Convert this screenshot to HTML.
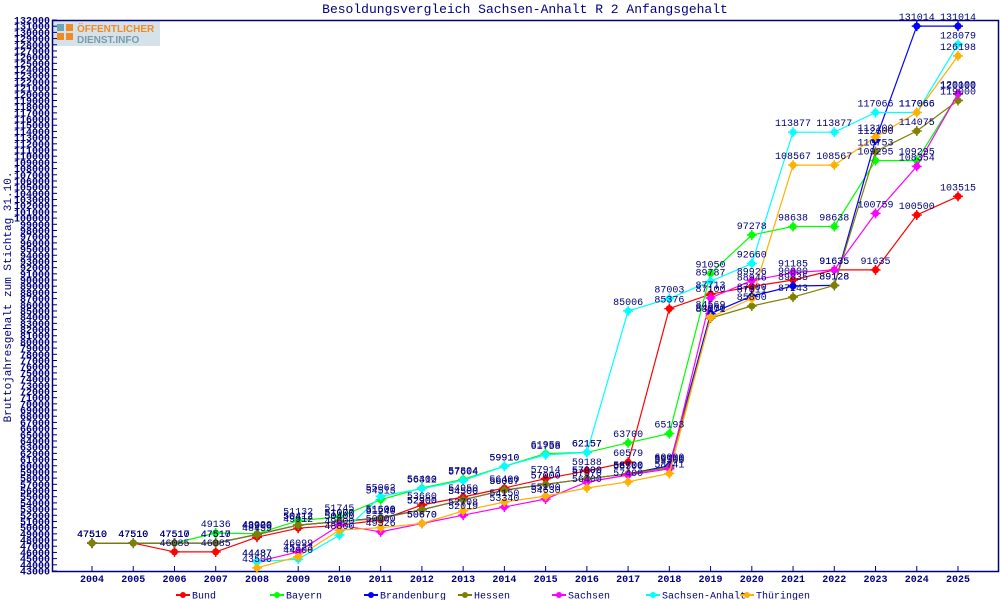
<!DOCTYPE html>
<html><head><meta charset="utf-8"><style>
html,body{margin:0;padding:0;background:#fff;}
svg{display:block;font-family:"Liberation Mono","DejaVu Sans Mono",monospace;}
</style></head><body>
<svg id="s" width="1000" height="600" viewBox="0 0 1000 600" xmlns="http://www.w3.org/2000/svg"></svg>
<script>
var S=document.getElementById('s');var h='';
var L=52,T=20,R=999,B=571;
function Y(v){return B-(v-43000)*551/89000;}
function X(i){return 92+i*41.238;}
h+='<rect x="52" y="20" width="108" height="26" fill="#d6e2ea"/>';
h+='<rect x="57" y="24" width="7" height="7" fill="#6aa8b8"/><rect x="66" y="24" width="7" height="7" fill="#f08a24"/><rect x="57" y="33" width="7" height="7" fill="#f08a24"/><rect x="66" y="33" width="7" height="7" fill="#f08a24"/>';
h+='<text x="77" y="32" font-family="Liberation Sans,sans-serif" font-weight="bold" font-size="10" fill="#f08a24">ÖFFENTLICHER</text>';
h+='<text x="77" y="43" font-family="Liberation Sans,sans-serif" font-weight="bold" font-size="10" fill="#7a9aaa">DIENST.INFO</text>';
h+='<text x="525" y="13" text-anchor="middle" font-size="13" fill="#000080">Besoldungsvergleich Sachsen-Anhalt R 2 Anfangsgehalt</text>';
h+='<text transform="translate(11,297) rotate(-90)" text-anchor="middle" font-size="11" fill="#000080">Bruttojahresgehalt zum Stichtag 31.10.</text>';
h+='<rect x="52.5" y="20.5" width="946" height="551" fill="none" stroke="#000080" stroke-width="1.5"/>';
for(var v=43000;v<=132000;v+=1000){var y=Y(v);h+='<line x1="52" x2="57" y1="'+y+'" y2="'+y+'" stroke="#000080"/>';h+='<text x="50" y="'+(y+3.5)+'" text-anchor="end" font-size="10" font-weight="bold" fill="#000080">'+v+'</text>';}
for(var i=0;i<22;i++){var x=X(i);h+='<line x1="'+x+'" x2="'+x+'" y1="566" y2="571" stroke="#000080"/>';h+='<text x="'+x+'" y="582" text-anchor="middle" font-size="10" font-weight="bold" fill="#000080">'+(2004+i)+'</text>';}
var N=null;
var D=[
['Bund','#ff0000',[47510,47510,46085,46085,48459,49912,50400,51240,53660,54950,56400,57914,59188,60579,85376,87713,88946,90000,91635,91635,100500,103515]],
['Bayern','#00ff00',[47510,47510,47510,49136,49020,51132,51745,54513,56400,57804,59910,61958,62157,63700,65193,91050,97278,98638,98638,109295,109295,120000]],
['Brandenburg','#0000ff',[47510,47510,47510,47510,48900,50412,51000,51600,52900,54500,56067,57000,57900,58700,60000,84569,87400,89035,89128,112600,131014,131014]],
['Hessen','#808000',[47510,47510,47517,47517,48900,50412,51000,51500,52900,54500,56067,57000,57900,58700,59700,83871,85800,87243,89128,110753,114075,119000]],
['Sachsen','#ff00ff',[N,N,N,N,44487,46099,50400,49326,50670,52019,53340,54630,57370,58500,59500,87100,89926,91185,91635,100759,108354,120100]],
['Sachsen-Anhalt','#00ffff',[N,N,N,N,44487,44900,48800,55062,56312,57604,59910,61758,62157,85006,87003,89787,92660,113877,113877,117066,117066,128079]],
['Thüringen','#ffb000',[N,N,N,N,43500,45323,49600,50000,50670,52708,54150,55100,56400,57400,58741,84000,87011,108567,108567,113100,117066,126198]]
];
var lab='';
D.forEach(function(s){var p=[];s[2].forEach(function(v,i){if(v!=null)p.push([X(i),Y(v),v]);});
h+='<polyline fill="none" stroke="'+s[1]+'" stroke-width="1.2" points="'+p.map(function(q){return q[0].toFixed(1)+','+q[1].toFixed(1)}).join(' ')+'"/>';
p.forEach(function(q){h+='<circle cx="'+q[0]+'" cy="'+q[1]+'" r="3.5" fill="'+s[1]+'"/><line x1="'+(q[0]-5)+'" x2="'+(q[0]+5)+'" y1="'+q[1]+'" y2="'+q[1]+'" stroke="'+s[1]+'" stroke-width="1.5"/><line y1="'+(q[1]-5)+'" y2="'+(q[1]+5)+'" x1="'+q[0]+'" x2="'+q[0]+'" stroke="'+s[1]+'" stroke-width="1.5"/>';
lab+='<text x="'+q[0]+'" y="'+(q[1]-6)+'" text-anchor="middle" font-size="10" fill="#000080">'+q[2]+'</text>';});});
h+=lab;
var lx=[176,270,364,458,552,646,740];
D.forEach(function(s,i){var x=lx[i];h+='<line x1="'+x+'" x2="'+(x+14)+'" y1="595" y2="595" stroke="'+s[1]+'" stroke-width="2"/><circle cx="'+(x+7)+'" cy="595" r="3" fill="'+s[1]+'"/><text x="'+(x+16)+'" y="598.5" font-size="10" fill="#000080">'+s[0]+'</text>';});
S.innerHTML=h;
</script>
</body></html>
